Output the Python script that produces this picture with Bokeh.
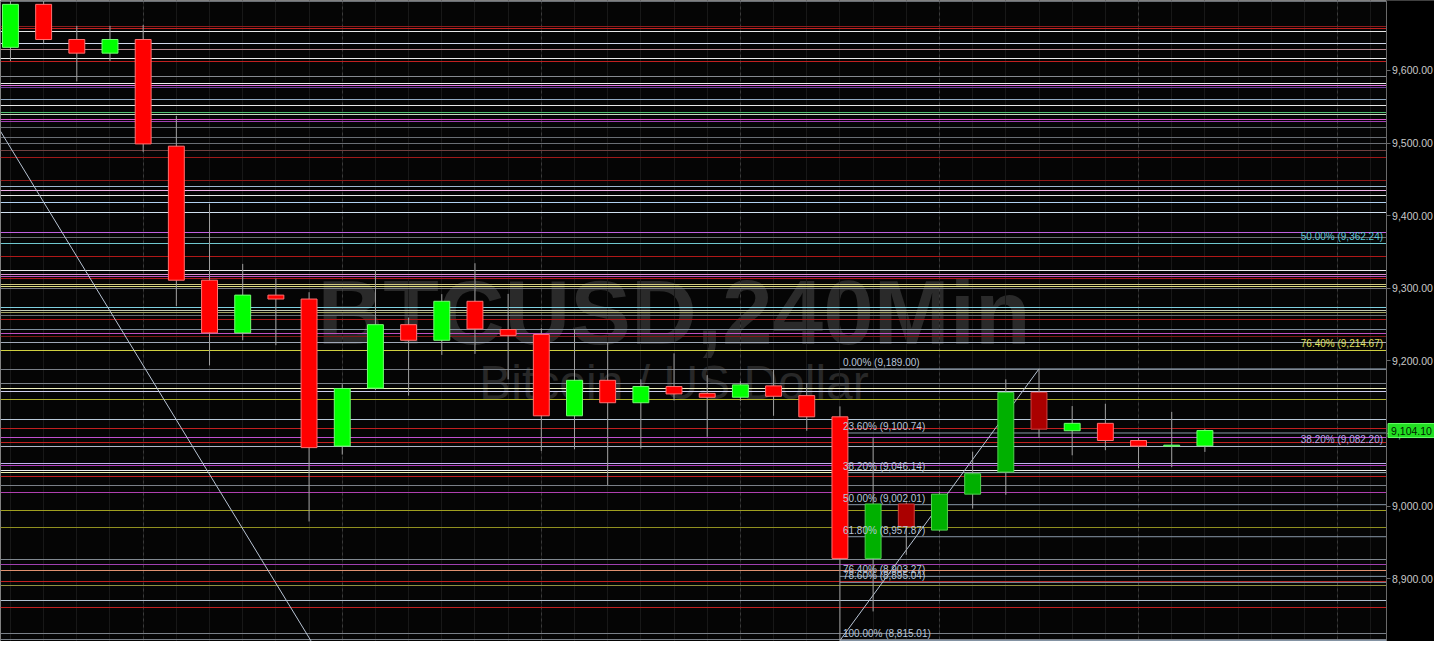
from bokeh.plotting import figure
from bokeh.models import Range1d, FixedTicker, NumeralTickFormatter, Label, LinearAxis
from bokeh.core.properties import value
from bokeh.embed import file_html
from bokeh.resources import INLINE

# ---------------- data ----------------
opens = [9631.8, 9691.0, 9642.6, 9623.8, 9642.6, 9495.7, 9311.1, 9238.6, 9290.6, 9285.2,
         9082.7, 9162.5, 9249.9, 9228.4, 9282.1, 9243.2, 9236.4, 9124.4, 9173.3, 9142.4,
         9164.7, 9155.3, 9150.0, 9165.6, 9152.2, 9123.0, 8928.0, 9003.0, 8967.0, 9016.5,
         9047.0, 9156.6, 9103.8, 9114.0, 9090.4, 9082.7, 9083.0]
closes = [9691.0, 9642.6, 9623.8, 9642.6, 9498.8, 9311.1, 9238.6, 9290.6, 9285.2, 9080.6,
          9162.0, 9249.9, 9228.4, 9282.1, 9244.0, 9235.1, 9124.4, 9173.3, 9142.4, 9164.7,
          9154.5, 9149.9, 9167.0, 9151.3, 9123.0, 8928.0, 9003.0, 8971.8, 9016.5, 9044.7,
          9156.6, 9106.0, 9114.0, 9090.4, 9082.7, 9084.0, 9104.1]
highs = [9696.0, 9696.0, 9661.4, 9661.4, 9662.7, 9537.4, 9416.5, 9333.6, 9313.4, 9294.6,
         9168.0, 9324.6, 9259.7, 9291.9, 9334.5, 9292.3, 9245.0, 9244.0, 9226.0, 9174.6,
         9210.4, 9180.4, 9172.0, 9188.0, 9169.3, 9137.4, 9094.0, 9005.0, 9020.0, 9075.0,
         9174.6, 9189.0, 9137.8, 9141.0, 9094.0, 9129.8, 9106.0]
lows = [9613.0, 9637.2, 9584.8, 9613.0, 9488.0, 9275.4, 9193.8, 9228.4, 9221.6, 8978.9,
        9071.0, 9160.0, 9152.2, 9208.2, 9209.6, 9174.6, 9076.0, 9078.3, 9029.0, 9079.3,
        9145.5, 9095.4, 9145.0, 9124.4, 9103.8, 8815.01, 8855.0, 8933.0, 8965.0, 8996.7,
        9015.6, 9094.0, 9070.0, 9077.0, 9052.0, 9053.7, 9074.7]
# dimmed candles (last session highlight)
dim = [False] * 26 + [True] * 6 + [False] * 5

# horizontal support / resistance levels and their colours
levels = [9694.3, 9660.5, 9657.8, 9653.7, 9636.8, 9628.2, 9616.7, 9612.6, 9591.9, 9582.1,
          9579.8, 9576.4, 9560.6, 9551.6, 9541.8, 9538.7, 9532.0, 9529.7, 9521.7, 9508.2,
          9499.2, 9489.4, 9480.4, 9449.1, 9439.7, 9434.3, 9427.6, 9418.6, 9404.4, 9377.0,
          9369.4, 9362.24, 9343.4, 9324.6, 9318.8, 9316.5, 9313.4, 9305.8, 9303.1, 9300.0,
          9273.1, 9269.5, 9266.4, 9262.8, 9256.6, 9243.2, 9238.2, 9234.2, 9224.7, 9214.67,
          9188.0, 9168.7, 9162.0, 9158.0, 9146.4, 9119.5, 9106.5, 9094.0, 9088.1, 9082.2,
          9058.7, 9055.9, 9049.1, 9046.1, 9040.3, 9029.0, 9018.2, 8994.1, 8969.9, 8926.9,
          8919.4, 8911.3, 8895.6, 8891.1, 8870.1, 8860.0, 8825.3, 8817.0]
level_colors = ["#6a6e74", "#8c1c1c", "#c02020", "#e8e8e8", "#d0d8ec", "#b88890", "#e8e8e8", "#c02020", "#868a90", "#ececec",
                "#e070e0", "#7040a0", "#90a8c0", "#e8e8e8", "#50c070", "#c8d8c0", "#e060d0", "#a040b0", "#6a6e74", "#6a6e74",
                "#6a6e74", "#704040", "#a01818", "#901818", "#a0b8d0", "#f0b0e8", "#e8e8e8", "#b0d0f0", "#d0e0f0", "#c060e0",
                "#6a6e74", "#70c8d0", "#b01818", "#e8e8e8", "#e090d0", "#c050c0", "#b01818", "#d0c880", "#e0e080", "#7a7e84",
                "#80d0e0", "#c0c8b0", "#a0a060", "#6a6e74", "#b01818", "#8090a0", "#c050c0", "#801818", "#a0a8b8", "#d0d040",
                "#7a8088", "#7a8088", "#f0f0c0", "#d0d0f0", "#b0b030", "#b8c8d8", "#c02020", "#c050d0", "#c02020", "#b0b8c8",
                "#c0b0f0", "#b040c0", "#ececec", "#f0f0b0", "#c02020", "#7a8088", "#b040b0", "#a0a020", "#909020", "#808890",
                "#a040b0", "#e09070", "#c02020", "#909040", "#b0c0d0", "#c02020", "#7a8088", "#7a8088"]

# Fibonacci retracement (drawn from candle 25 low to candle 31 high)
fib_anchor = 25
fib_vals = [9189.00, 9100.74, 9046.14, 9002.01, 8957.87, 8903.27, 8895.04, 8815.01]
fib_texts = ["0.00% (9,189.00)", "23.60% (9,100.74)", "38.20% (9,046.14)", "50.00% (9,002.01)",
             "61.80% (8,957.87)", "76.40% (8,903.27)", "78.60% (8,895.04)", "100.00% (8,815.01)"]
fib_line_x = [25, 31]
fib_line_y = [8815.01, 9189.00]

# older fib levels labelled on the right edge
right_vals = [9362.24, 9214.67, 9082.20]
right_texts = ["50.00% (9,362.24)", "76.40% (9,214.67)", "38.20% (9,082.20)"]
right_colors = ["#60c8d8", "#e0e060", "#b8a8e8"]

# falling trend line
trend_x = [-0.3, 9.07]
trend_y = [9516.2, 8813.6]

y_ticks = [8900, 9000, 9100, 9200, 9300, 9400, 9500, 9600]
last_price = 9104.10
slots = list(range(0, 42))
daily = [4, 10, 16, 22, 28, 34, 40]
watermark_x = 20

X0, XAX, X1 = -0.3, 41.46, 42.92     # left edge, price-axis position, right edge
Y0, Y1 = 8813.6, 9696.3

# ---------------- figure ----------------
p = figure(width=1434, height=641, output_backend="svg", toolbar_location=None,
           x_range=Range1d(X0, X1), y_range=Range1d(Y0, Y1),
           x_axis_location=None, y_axis_location=None,
           background_fill_color="#050505", border_fill_color="#000000",
           min_border_left=0, min_border_top=0, min_border_bottom=0, min_border_right=0,
           outline_line_color=None)
p.grid.visible = False

# watermark
p.text(x=[watermark_x], y=[9266.4], text=["BTCUSD,240Min"], text_font=value("Liberation Sans"),
       text_font_style="bold", text_font_size="91px", text_color="#2a2a2a",
       text_align="center", text_baseline="alphabetic")
p.text(x=[watermark_x], y=[9169.7], text=["Bitcoin / US Dollar"], text_font=value("Liberation Sans"),
       text_font_size="48px", text_color="#282828", text_align="center", text_baseline="alphabetic")

# vertical grid
p.vspan(x=slots, line_color="#181818", line_width=1)
p.vspan(x=daily, line_color="#3a3a3a", line_width=1, line_dash="3 3")

# horizontal levels
p.hspan(y=levels, line_color=level_colors, line_width=1.1)
p.ray(x=[fib_anchor] * len(fib_vals), y=fib_vals, length=0, angle=0, line_color="#8898a8", line_width=1)

# trend lines
p.line(trend_x, trend_y, line_color="#b8c4d4", line_width=1)
p.line(fib_line_x, fib_line_y, line_color="#b8c4d4", line_width=1)

# candles
idx = list(range(len(opens)))
tops = [max(o, c) for o, c in zip(opens, closes)]
bots = [min(o, c) for o, c in zip(opens, closes)]
fills, edges = [], []
for o, c, d in zip(opens, closes, dim):
    up = c >= o
    if up:
        fills.append("#00b000" if d else "#00ff00")
        edges.append("#50d050" if d else "#70ff70")
    else:
        fills.append("#aa0000" if d else "#ff0000")
        edges.append("#d04040" if d else "#ff7070")
p.segment(x0=idx, y0=lows, x1=idx, y1=highs, line_color="#a0a0a0", line_width=1)
p.vbar(x=idx, width=0.48, top=tops, bottom=bots, fill_color=fills, line_color=edges, line_width=1)

# fib labels
p.text(x=[fib_anchor] * len(fib_vals), y=fib_vals, text=fib_texts, x_offset=3, y_offset=-1,
       text_baseline="bottom", text_font=value("Liberation Sans"), text_font_size="10px",
       text_color="#b8c4d8")

# price-scale panel (black strip at the right edge)
p.quad(left=[XAX], right=[X1 + 1], bottom=[Y0 - 100], top=[Y1 + 100],
       fill_color="#000000", line_color=None)

p.text(x=[XAX] * len(right_vals), y=right_vals, text=right_texts, x_offset=-3, y_offset=-1,
       text_align="right", text_baseline="bottom", text_font=value("Liberation Sans"),
       text_font_size="10px", text_color=right_colors)

# right price axis, pinned at the strip's left edge
ax = LinearAxis(fixed_location=XAX)
ax.ticker = FixedTicker(ticks=y_ticks)
ax.formatter = NumeralTickFormatter(format="0,0.00")
ax.major_label_text_color = "#c8c8c8"
ax.major_label_text_font = "Liberation Sans"
ax.major_label_text_font_size = "10.5px"
ax.axis_line_color = "#6a6a6a"
ax.major_tick_line_color = "#6a6a6a"
ax.major_tick_out = 4
ax.major_tick_in = 0
ax.minor_tick_line_color = None
ax.major_label_standoff = 2
p.add_layout(ax, "right")

# last price tag
p.add_layout(Label(x=XAX, y=last_price, text=f"{last_price:,.2f}", x_offset=2,
                   text_baseline="middle", text_align="left", text_font="Liberation Sans",
                   text_font_size="10.5px", text_color="#002200",
                   background_fill_color="#22e022", border_line_color="#66ff66", padding=3))

html = file_html(p, INLINE, title="BTCUSD 240Min")
html = html.replace("<body>", "<body style=\"background-color:#000000;\">", 1)
open("out.html", "w").write(html)
